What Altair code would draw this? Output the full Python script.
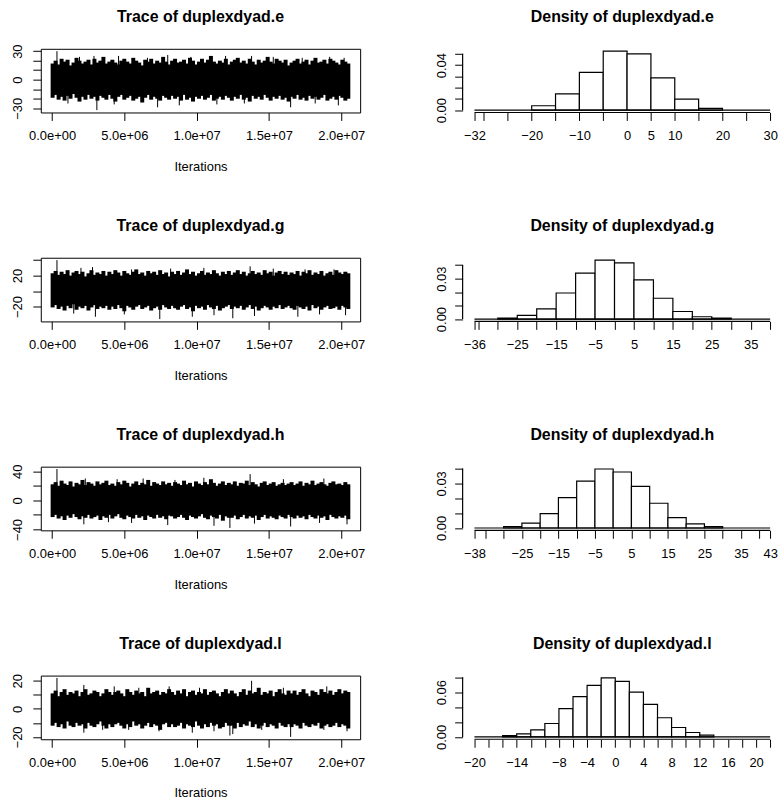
import altair as alt
import pandas as pd
import numpy as np

PARAMS = ["e", "g", "h", "l"]

# ---- trace data -----------------------------------------------------------
ITER_FIRST = 4.0e4
ITER_LAST = 2.049e7

RANGE_MIN = {"e": -32, "g": -36, "h": -38, "l": -20}
RANGE_MAX = {"e": 30, "g": 40, "h": 43, "l": 22}

# upper / lower edge of the sampled chain in 100 consecutive windows
TRACE_HI = {
    "e": [17, 20, 16, 22, 19, 21, 15, 18, 23, 20, 17, 19, 21, 16, 22, 18, 20, 24, 17, 19,
          21, 18, 16, 20, 22, 19, 17, 23, 20, 18, 15, 21, 19, 22, 17, 20, 18, 24, 19, 16,
          20, 22, 18, 19, 21, 17, 23, 20, 16, 19, 22, 18, 21, 25, 19, 17, 20, 18, 22, 16,
          19, 21, 23, 18, 20, 17, 22, 19, 16, 21, 18, 20, 24, 19, 17, 22, 20, 18, 21, 15,
          18, 20, 22, 17, 19, 21, 16, 20, 23, 18, 19, 21, 17, 22, 20, 18, 16, 21, 19, 17],
    "g": [23, 26, 21, 25, 22, 27, 20, 24, 26, 22, 25, 19, 23, 27, 21, 24, 22, 26, 20, 25,
          22, 27, 24, 20, 26, 23, 21, 25, 28, 22, 24, 20, 26, 23, 25, 21, 27, 22, 24, 19,
          25, 22, 26, 21, 24, 28, 22, 25, 20, 23, 26, 21, 24, 22, 27, 23, 20, 25, 22, 26,
          21, 24, 27, 22, 25, 20, 23, 26, 22, 24, 21, 27, 23, 25, 20, 24, 26, 22, 25, 21,
          24, 22, 26, 20, 25, 23, 27, 21, 24, 22, 26, 20, 23, 25, 21, 27, 24, 22, 25, 23],
    "h": [22, 25, 20, 27, 23, 21, 26, 19, 24, 22, 28, 21, 25, 23, 20, 26, 22, 24, 27, 21,
          23, 20, 25, 22, 27, 24, 19, 23, 26, 21, 24, 22, 28, 20, 25, 23, 21, 26, 22, 24,
          20, 25, 23, 21, 27, 22, 24, 19, 26, 23, 21, 25, 22, 29, 24, 20, 23, 26, 21, 24,
          22, 26, 20, 24, 23, 27, 21, 25, 22, 19, 24, 26, 21, 23, 25, 20, 22, 24, 21, 23,
          25, 21, 23, 26, 20, 24, 22, 27, 21, 23, 25, 22, 20, 24, 26, 22, 23, 21, 25, 22],
    "l": [11, 13, 9, 12, 14, 10, 12, 11, 13, 9, 12, 14, 10, 11, 13, 12, 9, 11, 14, 12,
          10, 12, 13, 11, 9, 14, 12, 10, 13, 11, 12, 9, 15, 11, 12, 13, 10, 12, 11, 14,
          12, 10, 13, 11, 14, 9, 12, 13, 10, 12, 11, 14, 10, 12, 13, 11, 9, 12, 14, 11,
          13, 11, 9, 12, 14, 10, 13, 11, 12, 15, 10, 12, 11, 13, 9, 12, 14, 11, 10, 13,
          11, 13, 10, 12, 14, 11, 9, 13, 12, 10, 14, 12, 11, 13, 10, 12, 14, 11, 13, 12],
}
TRACE_LO = {
    "e": [-19, -16, -21, -18, -22, -17, -20, -15, -19, -23, -18, -21, -16, -20, -18, -22, -17, -19, -21, -16,
          -20, -23, -18, -16, -21, -19, -17, -22, -20, -18, -24, -19, -16, -21, -18, -20, -22, -17, -19, -21,
          -17, -20, -18, -22, -16, -21, -19, -23, -18, -20, -17, -21, -19, -16, -22, -20, -18, -21, -17, -19,
          -22, -18, -20, -16, -21, -19, -23, -17, -20, -18, -21, -16, -19, -22, -18, -20, -17, -21, -19, -23,
          -18, -20, -16, -21, -19, -22, -17, -20, -18, -21, -19, -16, -22, -20, -18, -21, -17, -19, -22, -20],
    "g": [-21, -18, -23, -20, -25, -19, -22, -17, -24, -20, -22, -19, -25, -21, -18, -23, -20, -22, -19, -24,
          -20, -23, -18, -22, -26, -19, -21, -24, -20, -18, -23, -21, -19, -25, -22, -20, -24, -18, -21, -23,
          -19, -22, -24, -20, -18, -23, -21, -26, -19, -22, -20, -24, -18, -21, -23, -19, -25, -22, -20, -18,
          -23, -20, -22, -19, -24, -21, -18, -23, -20, -25, -22, -19, -21, -24, -20, -22, -18, -23, -21, -19,
          -22, -24, -19, -21, -23, -20, -25, -18, -22, -20, -24, -21, -19, -23, -22, -20, -24, -19, -21, -23],
    "h": [-23, -20, -25, -22, -27, -21, -24, -19, -23, -26, -22, -24, -20, -25, -23, -21, -27, -22, -24, -20,
          -25, -22, -19, -24, -26, -21, -23, -25, -20, -24, -22, -27, -21, -23, -25, -20, -24, -22, -26, -21,
          -22, -25, -23, -20, -24, -27, -21, -23, -25, -22, -19, -24, -26, -21, -23, -25, -20, -28, -22, -24,
          -24, -21, -26, -23, -20, -25, -22, -24, -21, -27, -23, -20, -25, -22, -24, -26, -21, -23, -25, -20,
          -23, -25, -21, -24, -22, -26, -20, -23, -25, -21, -24, -22, -27, -20, -23, -25, -22, -24, -21, -26],
    "l": [-12, -10, -13, -11, -14, -9, -12, -13, -10, -12, -11, -14, -10, -12, -13, -11, -9, -12, -14, -11,
          -13, -11, -10, -12, -14, -11, -13, -9, -12, -11, -14, -12, -10, -13, -11, -12, -15, -11, -10, -13,
          -11, -13, -12, -10, -14, -11, -12, -13, -9, -12, -14, -11, -13, -10, -12, -11, -14, -13, -10, -12,
          -12, -14, -10, -13, -11, -12, -9, -13, -11, -14, -12, -10, -13, -11, -12, -14, -10, -12, -13, -11,
          -13, -11, -12, -14, -10, -12, -13, -11, -12, -10, -14, -12, -11, -13, -12, -10, -13, -11, -12, -14],
}

# isolated excursions of the chain (iteration, value)
SPIKE_ITER = {
    "e": [3.4e5, 1.9e6, 2.9e6, 4.6e6, 6.6e6, 8.0e6, 9.6e6, 1.2e7, 1.38e7, 1.53e7, 1.73e7, 1.92e7, 2.02e7,
          1.1e6, 3.1e6, 4.3e6, 7.3e6, 8.8e6, 1.14e7, 1.33e7, 1.65e7, 1.82e7, 1.98e7],
    "g": [3.4e5, 2.0e6, 2.8e6, 5.5e6, 8.2e6, 1.05e7, 1.37e7, 1.53e7, 1.75e7, 1.95e7,
          1.5e6, 3.0e6, 5.0e6, 7.45e6, 9.7e6, 1.12e7, 1.25e7, 1.4e7, 1.7e7, 1.85e7, 2.03e7],
    "h": [3.4e5, 2.3e6, 4.5e6, 6.3e6, 8.5e6, 1.05e7, 1.37e7, 1.6e7, 1.88e7,
          2.2e6, 3.9e6, 5.5e6, 8.0e6, 1.12e7, 1.23e7, 1.4e7, 1.65e7, 1.85e7, 2.04e7],
    "l": [3.4e5, 2.2e6, 4.3e6, 6.0e6, 8.1e6, 1.02e7, 1.38e7, 1.6e7, 1.9e7,
          2.2e6, 3.5e6, 5.3e6, 7.4e6, 9.7e6, 1.12e7, 1.23e7, 1.25e7, 1.45e7, 1.65e7, 1.88e7, 2.04e7],
}
SPIKE_VAL = {
    "e": [30, 24, 25, 25, 23, 26, 24, 25, 25, 24, 23, 24, 23,
          -25, -32, -26, -29, -27, -26, -25, -29, -25, -27],
    "g": [40, 30, 31, 28, 29, 30, 32, 29, 28, 28,
          -29, -33, -30, -36, -33, -31, -35, -32, -33, -30, -31],
    "h": [43, 30, 29, 30, 28, 31, 36, 29, 30,
          -33, -30, -31, -34, -35, -38, -32, -36, -31, -33],
    "l": [22, 17, 16, 15, 16, 15, 20, 15, 16,
          -17, -15, -15, -16, -17, -16, -19, -18, -15, -20, -15, -16],
}

TRACE_X_TICKS = [0, 5e6, 1e7, 1.5e7, 2e7]
TRACE_Y_TICKS = {"e": [-30, -20, -10, 0, 10, 20, 30], "g": [-20, 0, 20, 40],
                 "h": [-40, -20, 0, 20, 40], "l": [-20, -10, 0, 10, 20]}
TRACE_Y_LABELS = {"e": [-30, 0, 30], "g": [-20, 20], "h": [-40, 0, 40], "l": [-20, 0, 20]}

# ---- histogram data -------------------------------------------------------
HIST_BIN_START = {"e": -20, "g": -30, "h": -30, "l": -16}
HIST_BIN_WIDTH = {"e": 5, "g": 5, "h": 5, "l": 2}
HIST_DENSITY = {
    "e": [0.0039, 0.0145, 0.0335, 0.0524, 0.0500, 0.0287, 0.0098, 0.0015],
    "g": [0.0007, 0.0027, 0.0076, 0.0193, 0.0341, 0.0437, 0.0417, 0.0290, 0.0154, 0.0056, 0.0017, 0.0007],
    "h": [0.0009, 0.0033, 0.0096, 0.0204, 0.0315, 0.0396, 0.0376, 0.0280, 0.0166, 0.0070, 0.0028, 0.0009],
    "l": [0.0018, 0.0040, 0.0095, 0.0180, 0.0380, 0.0540, 0.0690, 0.0790, 0.0743, 0.0600,
          0.0437, 0.0257, 0.0126, 0.0059, 0.0023],
}
HIST_X_TICKS = {
    "e": [-32, -30, -25, -20, -15, -10, -5, 0, 5, 10, 15, 20, 25, 30],
    "g": [-36, -35, -30, -25, -20, -15, -10, -5, 0, 5, 10, 15, 20, 25, 30, 35, 40],
    "h": [-38, -35, -30, -25, -20, -15, -10, -5, 0, 5, 10, 15, 20, 25, 30, 35, 40, 43],
    "l": [-20, -18, -16, -14, -12, -10, -8, -6, -4, -2, 0, 2, 4, 6, 8, 10, 12, 14, 16, 18, 20, 22],
}
HIST_X_LABELS = {
    "e": [-32, -20, -10, 0, 5, 10, 20, 30],
    "g": [-36, -25, -15, -5, 5, 15, 25, 35],
    "h": [-38, -25, -15, -5, 5, 15, 25, 35, 43],
    "l": [-20, -14, -8, -4, 0, 4, 8, 12, 16, 20],
}
HIST_Y_TICKS = {"e": [0, 0.01, 0.02, 0.03, 0.04, 0.05], "g": [0, 0.01, 0.02, 0.03, 0.04],
                "h": [0, 0.01, 0.02, 0.03, 0.04], "l": [0, 0.02, 0.04, 0.06, 0.08]}
HIST_Y_LABELS = {"e": [0, 0.04], "g": [0, 0.03], "h": [0, 0.03], "l": [0, 0.06]}

# ---- layout ---------------------------------------------------------------
TRACE_W = 321
HIST_W = 317
PLOT_H = 64
FONT = "Liberation Sans"
SPACING_H = 69
SPACING_V = 43
TITLE_Y = -27


def title_layer(text, width, dx=0):
    df = pd.DataFrame({"t": [text]})
    return alt.Chart(df).mark_text(font=FONT, fontSize=16, fontWeight="bold", color="black",
                                   align="center", baseline="alphabetic").encode(
        text="t:N", x=alt.value(width / 2 + dx), y=alt.value(TITLE_Y))


def trace_chart(k):
    hi = TRACE_HI[k]
    lo = TRACE_LO[k]
    env = pd.DataFrame({"iter": np.linspace(ITER_FIRST, ITER_LAST, len(hi)), "hi": hi, "lo": lo})
    sp = pd.DataFrame({"iter": SPIKE_ITER[k], "hi": SPIKE_VAL[k]})
    sp["lo"] = 0
    span = ITER_LAST - ITER_FIRST
    xs = alt.Scale(domain=[ITER_FIRST - 0.04 * span, ITER_LAST + 0.04 * span], nice=False, zero=False)
    r = RANGE_MAX[k] - RANGE_MIN[k]
    ys = alt.Scale(domain=[RANGE_MIN[k] - 0.04 * r, RANGE_MAX[k] + 0.04 * r], nice=False, zero=False)
    xaxis = alt.Axis(values=TRACE_X_TICKS, title="Iterations",
                     labelExpr="replace(format(datum.value, '.1e'), 'e+', 'e+0')",
                     labelFlush=False, labelOverlap=False, labelPadding=9, titlePadding=18)
    yaxis = alt.Axis(values=TRACE_Y_TICKS[k], title=None, format="d",
                     labelExpr=f"indexof({TRACE_Y_LABELS[k]}, datum.value) >= 0 ? datum.label : ''",
                     labelAngle=270, labelAlign="center", labelBaseline="bottom",
                     labelFlush=False, labelOverlap=False, labelPadding=8)
    band = alt.Chart(env).mark_rule(color="black", strokeWidth=4).encode(
        x=alt.X("iter:Q", scale=xs, axis=xaxis),
        y=alt.Y("hi:Q", scale=ys, axis=yaxis),
        y2="lo:Q",
    )
    spikes = alt.Chart(sp).mark_rule(color="black", strokeWidth=1).encode(
        x=alt.X("iter:Q", scale=xs, axis=xaxis),
        y=alt.Y("hi:Q", scale=ys, axis=yaxis),
        y2="lo:Q",
    )
    return alt.layer(band, spikes, title_layer(f"Trace of duplexdyad.{k}", TRACE_W)).properties(
        width=TRACE_W, height=PLOT_H,
        view=alt.ViewBackground(stroke="black", strokeWidth=1),
    )


def hist_chart(k):
    dens = HIST_DENSITY[k]
    w = HIST_BIN_WIDTH[k]
    s = HIST_BIN_START[k]
    left = [s + i * w for i in range(len(dens))]
    bars = pd.DataFrame({"x0": left, "x1": [v + w for v in left], "y0": 0.0, "y1": dens})
    m = max(dens)
    ys = alt.Scale(domain=[-0.04 * m, 1.04 * m], nice=False, zero=False)
    r = RANGE_MAX[k] - RANGE_MIN[k]
    lo = RANGE_MIN[k] - 0.04 * r
    hi_full = RANGE_MAX[k] + 0.04 * r
    hi = lo + (hi_full - lo) * HIST_W / TRACE_W
    xs = alt.Scale(domain=[lo, hi], nice=False, zero=False)
    xaxis = alt.Axis(values=HIST_X_TICKS[k], title=None, format="d",
                     labelExpr=f"indexof({HIST_X_LABELS[k]}, datum.value) >= 0 ? datum.label : ''",
                     labelFlush=False, labelOverlap=False, labelPadding=9)
    yaxis = alt.Axis(values=HIST_Y_TICKS[k], title=None, format=".2f",
                     labelExpr=f"indexof({HIST_Y_LABELS[k]}, datum.value) >= 0 ? datum.label : ''",
                     labelAngle=270, labelAlign="center", labelBaseline="bottom",
                     labelFlush=False, labelOverlap=False, labelPadding=6)
    rects = alt.Chart(bars).mark_rect(fill="white", stroke="black", strokeWidth=1.2).encode(
        x=alt.X("x0:Q", scale=xs, axis=xaxis),
        x2="x1:Q",
        y=alt.Y("y0:Q", scale=ys, axis=yaxis),
        y2="y1:Q",
    )
    frame = pd.DataFrame({"x0": [RANGE_MIN[k]], "x1": [RANGE_MAX[k]],
                          "y0": [0.0], "y1": [HIST_Y_TICKS[k][-1]]})
    zero_line = alt.Chart(frame).mark_rule(color="black", strokeWidth=1.2).encode(
        x=alt.X("x0:Q", scale=xs, axis=xaxis), x2="x1:Q", y=alt.Y("y0:Q", scale=ys, axis=yaxis))
    x_line = alt.Chart(frame).mark_rule(color="black", strokeWidth=1.2).encode(
        x=alt.X("x0:Q", scale=xs, axis=xaxis), x2="x1:Q", y=alt.value(PLOT_H))
    y_line = alt.Chart(frame).mark_rule(color="black", strokeWidth=1.2).encode(
        x=alt.value(0), y=alt.Y("y0:Q", scale=ys, axis=yaxis), y2="y1:Q")
    return alt.layer(rects, zero_line, x_line, y_line,
                     title_layer(f"Density of duplexdyad.{k}", HIST_W, dx=2)).properties(
        width=HIST_W, height=PLOT_H,
        view=alt.ViewBackground(stroke="transparent"),
    )


rows = [alt.hconcat(trace_chart(k), hist_chart(k), spacing=SPACING_H) for k in PARAMS]

chart = alt.vconcat(*rows, spacing=SPACING_V).properties(
    padding={"left": 11, "top": 6, "right": 0, "bottom": 0},
    background="white",
).configure_view(
    stroke="transparent"
).configure_axis(
    domain=False, grid=False, labelOverlap=False, labelFlush=False,
    tickColor="black", tickSize=8, tickWidth=1,
    labelFont=FONT, labelFontSize=13, labelColor="black",
    titleFont=FONT, titleFontSize=13, titleFontWeight="normal", titleColor="black",
)

chart.save("out.html", embed_options={"renderer": "svg", "actions": False})
